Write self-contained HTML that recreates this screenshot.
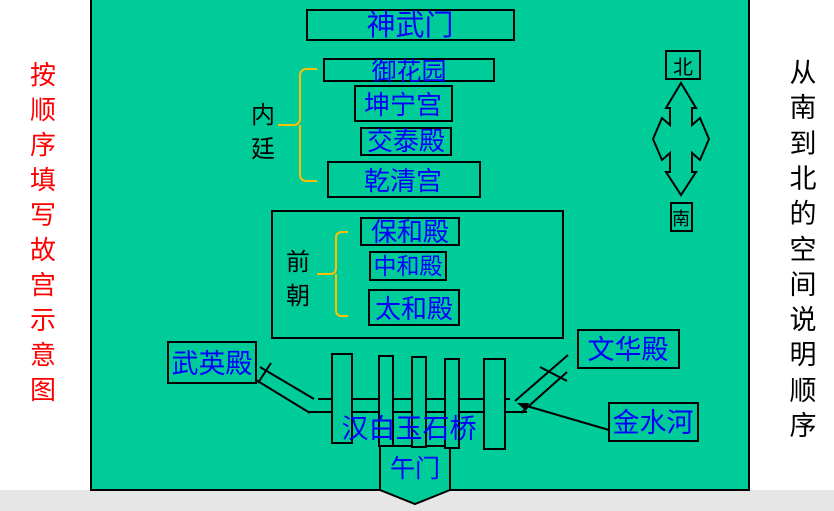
<!DOCTYPE html>
<html><head><meta charset="utf-8"><style>
html,body{margin:0;padding:0;background:#fff;}
svg{display:block;}
text{font-family:"Liberation Sans","Noto Sans CJK SC",sans-serif;}
</style></head><body>
<svg width="834" height="511" viewBox="0 0 834 511" xmlns="http://www.w3.org/2000/svg">
<rect x="0" y="490" width="834" height="21" fill="#e6e6e6"/>
<rect x="91" y="-2" width="658" height="492" fill="#00cc99" stroke="#000" stroke-width="2"/>
<g fill="none" stroke="#000" stroke-width="2">
<rect x="307" y="10" width="207" height="30"/>
<rect x="324" y="59" width="170" height="22"/>
<rect x="355" y="86" width="97" height="35"/>
<rect x="361" y="128" width="90" height="27"/>
<rect x="328" y="162" width="152" height="35"/>
<rect x="272" y="211" width="291" height="127"/>
<rect x="361" y="218" width="98" height="27"/>
<rect x="370" y="252" width="76" height="28"/>
<rect x="369" y="290" width="90" height="35"/>
<rect x="666" y="51" width="34" height="28"/>
<rect x="671" y="203" width="21" height="28"/>
<rect x="168" y="342" width="88" height="41"/>
<rect x="578" y="330" width="101" height="38"/>
<rect x="609" y="403" width="89" height="38"/>
<polygon points="380,446 450,446 450,490 415,504 380,490" fill="#00cc99"/>
<path d="M318 399H510M309 412H527"/>
<path d="M260 367L314 399M256 380L310 413M271 363L258 383"/>
<path d="M568 355L515 401M567 372L521 413M540 367L567 381"/>
<line x1="609" y1="430" x2="520" y2="404"/>
<polygon points="681,83 696,108 692,108 692,125 700,118 709,139 700,160 692,153 692,172 696,172 681,195 666,172 670,172 670,153 662,160 653,139 662,118 670,125 670,108 666,108"/>
</g>
<polygon points="517,403 529,403 526,411" fill="#000"/>
<g fill="#00cc99" stroke="#000" stroke-width="2">
<rect x="332" y="354" width="20" height="89"/>
<rect x="379" y="356" width="14" height="90"/>
<rect x="412" y="357" width="14" height="90"/>
<rect x="445" y="359" width="14" height="89"/>
<rect x="484" y="359" width="21" height="90"/>
</g>
<path d="M318 399H332M352 399H379M393 399H412M426 399H445M459 399H484M505 399H510M309 412H332M352 412H379M393 412H412M426 412H445M459 412H484M505 412H527" stroke="#000" stroke-width="2" fill="none"/>
<g fill="none" stroke="#ffc000" stroke-width="2">
<path d="M317 69H307Q300 69 300 76V118Q300 125 293 125H278M300 125Q300 132 300 132V174Q300 181 307 181H317"/>
<path d="M348 232H342Q336 232 336 238V268Q336 274 330 274H317M336 274V310Q336 316 342 316H348"/>
</g>
<g fill="#0000ff" text-anchor="middle">
<text x="410" y="35" font-size="29">神武门</text>
<text x="409" y="80" font-size="25">御花园</text>
<text x="403" y="114" font-size="26">坤宁宫</text>
<text x="406" y="150" font-size="26">交泰殿</text>
<text x="403" y="190" font-size="26">乾清宫</text>
<text x="410" y="241" font-size="26">保和殿</text>
<text x="408" y="274" font-size="23">中和殿</text>
<text x="414" y="318" font-size="26">太和殿</text>
<text x="212" y="373" font-size="27">武英殿</text>
<text x="628" y="359" font-size="27">文华殿</text>
<text x="653" y="432" font-size="27">金水河</text>
<text x="409" y="438" font-size="27">汉白玉石桥</text>
<text x="415" y="477" font-size="25">午门</text>
</g>
<g fill="#000" text-anchor="middle" font-size="24">
<text x="263" y="123">内</text>
<text x="263" y="157">廷</text>
<text x="298" y="270">前</text>
<text x="298" y="304">朝</text>
<text x="683" y="74" font-size="20">北</text>
<text x="681" y="225" font-size="18">南</text>
</g>
<g fill="#ff0000" font-size="26" text-anchor="middle">
<text x="43" y="84">按</text><text x="43" y="119">顺</text><text x="43" y="154">序</text><text x="43" y="189">填</text><text x="43" y="224">写</text><text x="43" y="259">故</text><text x="43" y="294">宫</text><text x="43" y="329">示</text><text x="43" y="364">意</text><text x="43" y="399">图</text>
</g>
<g fill="#000" font-size="27" text-anchor="middle">
<text x="803" y="82">从</text><text x="803" y="117">南</text><text x="803" y="153">到</text><text x="803" y="188">北</text><text x="803" y="223">的</text><text x="803" y="259">空</text><text x="803" y="294">间</text><text x="803" y="329">说</text><text x="803" y="364">明</text><text x="803" y="400">顺</text><text x="803" y="435">序</text>
</g>
</svg>
</body></html>
